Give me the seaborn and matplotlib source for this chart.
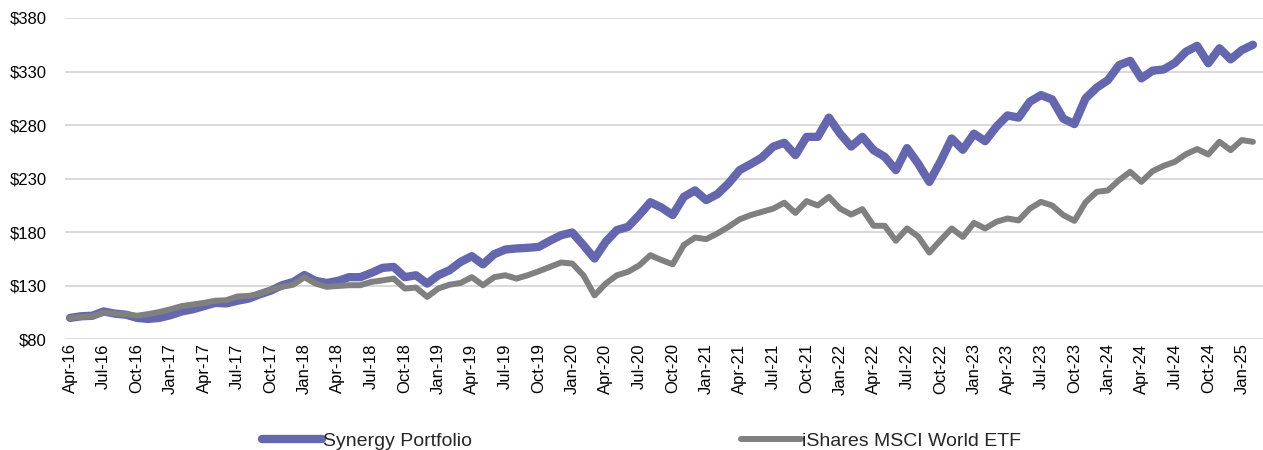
import pandas as pd
import seaborn as sns
import matplotlib.pyplot as plt
from matplotlib.ticker import FuncFormatter

# monthly growth of $100, Apr-16 .. Feb-25
months = pd.date_range('2016-04-01', periods=107, freq='MS').strftime('%b-%y').tolist()

synergy = [100, 101.5, 102, 106, 104, 103, 100, 99, 100, 102.5,
           106, 108, 111, 114, 113.5, 116, 118, 122, 125.5, 130.5,
           133.5, 140, 134.5, 132.6, 134.5, 138, 138, 142, 146.7, 147.6,
           138, 139.8, 132, 139.8, 144.5, 152.3, 157.6, 150, 159.4, 163.8,
           164.8, 165.4, 166.3, 172, 177.2, 179.7, 167.9, 155.4, 171, 182,
           185, 196, 208, 203, 196, 213, 219, 210, 215.5, 225.5,
           238, 243.6, 249.8, 259.8, 263.5, 252, 269, 269, 287, 272,
           260, 269, 256.6, 250.4, 238, 258.5, 244, 227, 246, 267.5,
           257, 272, 265, 278.4, 289, 287, 301.8, 308, 304, 286,
           281, 305, 315, 322, 336, 340, 323.6, 330.8, 332, 338,
           348.5, 354, 337.7, 351.7, 341.4, 350, 355]

msci_world = [100, 100.8, 101.5, 105, 104, 103.5, 102, 103.5, 105.5, 108,
              111, 112.5, 114, 116, 116.5, 120, 120.5, 122.5, 126.5, 129,
              131, 138, 132, 129, 129.8, 130.5, 130.5, 133.6, 135, 136.7,
              127.4, 128.3, 119.6, 127.4, 131, 132.6, 138, 130.5, 138, 139.8,
              136.7, 139.8, 143.5, 147.6, 151.7, 150.7, 139.8, 121, 132, 139.8,
              143, 149, 158.5, 154, 150, 168, 175, 173.5, 178.8, 185,
              192, 196, 199, 202, 207.5, 198, 209, 205, 213, 202,
              196.5, 201.5, 186, 186, 172, 183.5, 176, 161, 172.5, 183.5,
              175.6, 188.7, 183.5, 189.7, 192.8, 191, 202, 208.3, 205, 196,
              190.6, 208, 217.7, 219, 228.6, 236.4, 227, 237, 242, 245.7,
              252.9, 257.6, 252.6, 264.4, 256.6, 266, 264.4]

series_names = ['Synergy Portfolio', 'iShares MSCI World ETF']
y_ticks = [80, 130, 180, 230, 280, 330, 380]

df = pd.concat([
    pd.DataFrame({'idx': range(len(months)), 'value': synergy, 'series': series_names[0]}),
    pd.DataFrame({'idx': range(len(months)), 'value': msci_world, 'series': series_names[1]}),
])

sns.set_style('white')
plt.rcParams['font.family'] = ['Liberation Sans', 'DejaVu Sans']

fig = plt.figure(figsize=(12.63, 4.5), dpi=100)
ax = fig.add_axes([0.0515, 0.246, 0.9485, 0.714])

sns.lineplot(data=df, x='idx', y='value', hue='series', hue_order=series_names,
             palette=['#6466AE', '#808080'], legend=False, ax=ax)
lines = ax.get_lines()
lines[0].set_linewidth(6)
lines[1].set_linewidth(4.3)
for ln in lines:
    ln.set_solid_joinstyle('round')
    ln.set_solid_capstyle('round')

ax.set_ylim(80, 380)
ax.set_yticks(y_ticks)
ax.yaxis.set_major_formatter(FuncFormatter(lambda v, pos: f'${int(v)}'))
ax.set_xlim(-0.45, 106.9)
ax.set_xticks(range(0, len(months), 3))
ax.set_xticklabels(months[::3], rotation=90)
ax.set_xlabel('')
ax.set_ylabel('')

ax.grid(axis='y', color='#D9D9D9', linewidth=1.4)
ax.set_axisbelow(True)
sns.despine(ax=ax, left=True, bottom=True)
ax.tick_params(axis='y', length=0, pad=13, labelsize=12, labelcolor='black')
ax.tick_params(axis='x', length=0, pad=3, labelsize=12, labelcolor='black')

fig.legend(lines, series_names, loc='center', bbox_to_anchor=(0.508, 0.02),
           ncol=2, frameon=False, fontsize=14, handlelength=3.1,
           handletextpad=0.05, columnspacing=13.8)

fig.savefig('out.png', dpi=100)
